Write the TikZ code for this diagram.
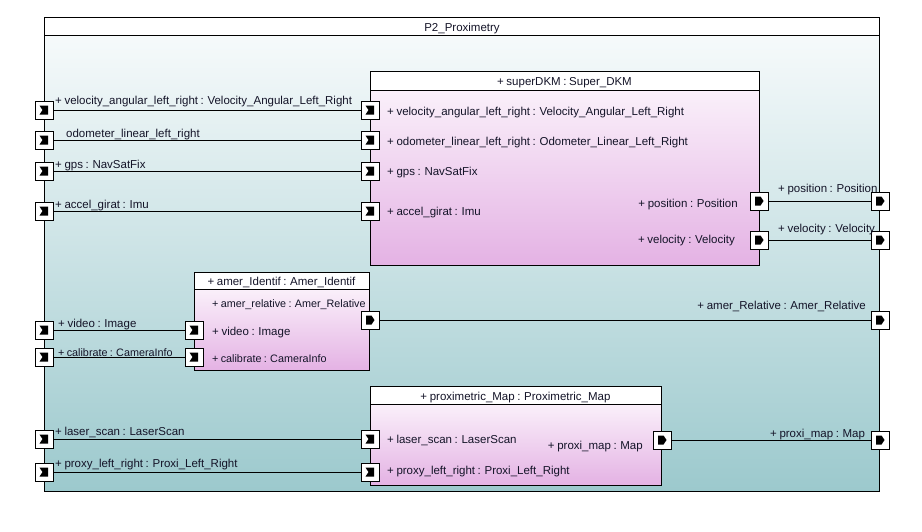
\documentclass[tikz,border=0pt]{standalone}
\usepackage{fontspec}
\setmainfont{Liberation Sans}
\definecolor{outTop}{RGB}{246,250,251}
\definecolor{outBot}{RGB}{156,201,205}
\definecolor{pinkTop}{RGB}{250,240,250}
\definecolor{pinkBot}{RGB}{228,178,228}
\definecolor{txt}{RGB}{20,20,40}
\pgfdeclarelayer{boxes}
\pgfdeclarelayer{wires}
\pgfsetlayers{boxes,wires,main}
\newcommand{\lblfont}{\fontsize{11.5}{13}\selectfont\spaceskip=2.6pt plus 1pt minus 0.5pt\relax}
\newcommand{\smlfont}{\fontsize{10.8}{13}\selectfont\spaceskip=2.3pt plus 1pt minus 0.5pt\relax}
\tikzset{
  port/.style={draw, fill=white, minimum size=18pt, inner sep=0pt, line width=0.8pt},
  inport/.style={port, path picture={\fill[black] ([shift={(-4.5pt,4.5pt)}]path picture bounding box.center) -- ++(8.5pt,0pt) -- ++(0pt,-9pt) -- ++(-8.5pt,0pt) -- ++(3pt,4.5pt) -- cycle;}},
  outport/.style={port, path picture={\fill[black] ([shift={(-4pt,4.5pt)}]path picture bounding box.center) -- ++(5.5pt,0pt) -- ++(3pt,-4.5pt) -- ++(-3pt,-4.5pt) -- ++(-5.5pt,0pt) -- cycle;}},
  lbl/.style={anchor=base west, inner sep=0pt, text=txt, font=\lblfont},
  lblr/.style={anchor=base east, inner sep=0pt, text=txt, font=\lblfont},
  hdr/.style={anchor=base, inner sep=0pt, text=txt, font=\lblfont},
  narrow/.style={font=\smlfont},
  wire/.style={line width=0.8pt},
  frm/.style={draw, line width=0.8pt}
}
\begin{document}
\begin{tikzpicture}[x=1pt,y=1pt]
\useasboundingbox (0,0) rectangle (922,-531);
\begin{pgfonlayer}{boxes}
\fill[white] (0,0) rectangle (922,-531);
% outer frame
\fill[white] (44,-17) rectangle (879,-35);
\shade[top color=outTop, bottom color=outBot] (44,-35) rectangle (879,-491);
\draw[frm] (44,-17) rectangle (879,-491);
\draw[frm] (44,-35) -- (879,-35);
% superDKM
\fill[white] (370,-71) rectangle (759,-90);
\shade[top color=pinkTop, bottom color=pinkBot] (370,-90) rectangle (759,-265);
\draw[frm] (370,-71) rectangle (759,-265);
\draw[frm] (370,-90) -- (759,-90);
% amer_Identif
\fill[white] (194,-272) rectangle (369,-289);
\shade[top color=pinkTop, bottom color=pinkBot] (194,-289) rectangle (369,-370);
\draw[frm] (194,-272) rectangle (369,-370);
\draw[frm] (194,-289) -- (369,-289);
% proximetric_Map
\fill[white] (370,-386) rectangle (661,-404);
\shade[top color=pinkTop, bottom color=pinkBot] (370,-404) rectangle (661,-485);
\draw[frm] (370,-386) rectangle (661,-485);
\draw[frm] (370,-404) -- (661,-404);
\end{pgfonlayer}

\node[hdr] (title) at (462,-31) {P2\_Proximetry};
\node[hdr] (hdrS) at (564.5,-85) {+ superDKM : Super\_DKM};
\node[hdr] (hdrA) at (281.5,-285) {+ amer\_Identif : Amer\_Identif};
\node[hdr] (hdrP) at (515.5,-400) {+ proximetric\_Map : Proximetric\_Map};

% ports - boundary left
\node[inport] (b1) at (44,-110) {};
\node[inport] (b2) at (44,-140) {};
\node[inport] (b3) at (44,-171) {};
\node[inport] (b4) at (44,-211) {};
\node[inport] (b5) at (44,-330) {};
\node[inport] (b6) at (44,-357) {};
\node[inport] (b7) at (44,-439) {};
\node[inport] (b8) at (44,-472) {};
% boundary right
\node[outport] (r1) at (880,-201) {};
\node[outport] (r2) at (880,-240) {};
\node[outport] (r3) at (880,-320) {};
\node[outport] (r4) at (880,-440) {};
% superDKM ports
\node[inport] (s1) at (370,-110) {};
\node[inport] (s2) at (370,-140) {};
\node[inport] (s3) at (370,-171) {};
\node[inport] (s4) at (370,-211) {};
\node[outport] (so1) at (759,-201) {};
\node[outport] (so2) at (759,-240) {};
% amer ports
\node[inport] (a1) at (194,-330) {};
\node[inport] (a2) at (194,-357) {};
\node[outport] (ao) at (370,-320) {};
% proximetric ports
\node[inport] (p1) at (370,-439) {};
\node[inport] (p2) at (370,-472) {};
\node[outport] (po) at (662,-440) {};

% wires
\begin{pgfonlayer}{wires}
\draw[wire] (b1) -- (s1);
\draw[wire] (b2) -- (s2);
\draw[wire] (b3) -- (s3);
\draw[wire] (b4) -- (s4);
\draw[wire] (so1) -- (r1);
\draw[wire] (so2) -- (r2);
\draw[wire] (b5) -- (a1);
\draw[wire] (b6) -- (a2);
\draw[wire] (ao) -- (r3);
\draw[wire] (b7) -- (p1);
\draw[wire] (b8) -- (p2);
\draw[wire] (po) -- (r4);
\end{pgfonlayer}

% left boundary labels
\node[lbl] (lb1) at (55,-104) {+ velocity\_angular\_left\_right : Velocity\_Angular\_Left\_Right};
\node[lbl] (lb2) at (66,-137) {odometer\_linear\_left\_right};
\node[lbl] (lb3) at (55,-168) {+ gps : NavSatFix};
\node[lbl] (lb4) at (55,-208) {+ accel\_girat : Imu};
\node[lbl] (lb5) at (58,-327) {+ video : Image};
\node[lbl,narrow] (lb6) at (58,-356) {+ calibrate : CameraInfo};
\node[lbl] (lb7) at (55,-435) {+ laser\_scan : LaserScan};
\node[lbl] (lb8) at (55,-467) {+ proxy\_left\_right : Proxi\_Left\_Right};

% superDKM labels
\node[lbl] (sl1) at (387,-115) {+ velocity\_angular\_left\_right : Velocity\_Angular\_Left\_Right};
\node[lbl] (sl2) at (387,-145) {+ odometer\_linear\_left\_right : Odometer\_Linear\_Left\_Right};
\node[lbl] (sl3) at (387,-175) {+ gps : NavSatFix};
\node[lbl] (sl4) at (387,-215) {+ accel\_girat : Imu};
\node[lblr] (sl5) at (738,-207) {+ position : Position};
\node[lblr] (sl6) at (735,-243) {+ velocity : Velocity};

% right boundary labels
\node[lbl] (rl1) at (778,-192) {+ position : Position};
\node[lbl] (rl2) at (778,-232) {+ velocity : Velocity};
\node[lblr] (rl3) at (866,-309) {+ amer\_Relative : Amer\_Relative};
\node[lbl] (rl4) at (770,-437) {+ proxi\_map : Map};

% amer labels
\node[lbl,narrow] (al1) at (212,-307) {+ amer\_relative : Amer\_Relative};
\node[lbl] (al2) at (212,-335) {+ video : Image};
\node[lbl,narrow] (al3) at (212,-362) {+ calibrate : CameraInfo};

% proximetric labels
\node[lbl] (pl1) at (387,-443) {+ laser\_scan : LaserScan};
\node[lbl] (pl2) at (387,-474) {+ proxy\_left\_right : Proxi\_Left\_Right};
\node[lblr] (pl3) at (643,-449) {+ proxi\_map : Map};
\end{tikzpicture}
\end{document}
